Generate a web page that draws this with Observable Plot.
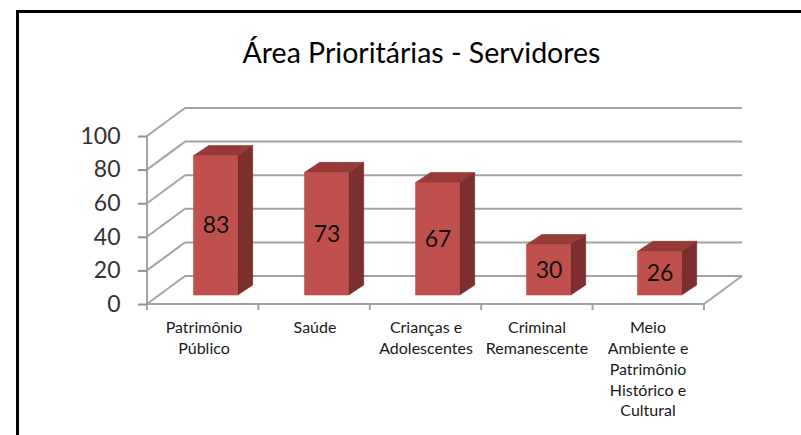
<!DOCTYPE html>
<html><head><meta charset="utf-8">
<script src="https://cdn.jsdelivr.net/npm/d3@7"></script>
<script src="https://cdn.jsdelivr.net/npm/@observablehq/plot@0.6"></script>
<style>
html,body{margin:0;padding:0;background:#fff;overflow:hidden;}
#wrap{position:relative;width:801px;height:435px;overflow:hidden;background:#fff;}
#border{position:absolute;left:16px;top:10px;width:1000px;height:1000px;border:3px solid #000;box-sizing:border-box;}
#chart{position:absolute;left:0;top:0;}
</style></head><body>
<div id="wrap"><div id="border"></div><div id="chart"></div></div>
<script>
const title = "Área Prioritárias - Servidores";
const categories = ["Patrimônio Público", "Saúde", "Crianças e Adolescentes", "Criminal Remanescente", "Meio Ambiente e Patrimônio Histórico e Cultural"];
const tickLabels = ["Patrimônio\nPúblico", "Saúde", "Crianças e\nAdolescentes", "Criminal\nRemanescente", "Meio\nAmbiente e\nPatrimônio\nHistórico e\nCultural"];
const values = [83, 73, 67, 30, 26];
const yTicks = [0, 20, 40, 60, 80, 100];

const data = categories.map((c, i) => ({cat: c, value: values[i]}));
const labelOf = new Map(categories.map((c, i) => [c, tickLabels[i]]));

// 3D projection styling (pixels)
const W = 801, H = 435, ML = 147, MR = 97, MT = 136, MB = 131;
const BACK_DX = 38, BACK_DY = -28;   // back wall offset
const BAR_DX = 12, BAR_DY = -9;      // bar front face depth offset
const DEPTH_DX = 15, DEPTH_DY = -10; // bar thickness
const BAND = (W - ML - MR) / categories.length;
const BAR_W = 44;
const INSET = (BAND - BAR_W) / 2;
const GRID = "#a3a3a3";

function walls(index, scales, values, dims) {
  const y = scales.y;
  const left = dims.marginLeft, right = dims.width - dims.marginRight;
  const g = d3.create("svg:g").attr("fill", "none").attr("stroke", GRID).attr("stroke-width", 2);
  const line = (x1, y1, x2, y2) => g.append("line").attr("x1", x1).attr("y1", y1).attr("x2", x2).attr("y2", y2);
  for (const t of yTicks) {
    const py = y(t);
    line(left, py, left + BACK_DX, py + BACK_DY);
    line(left + BACK_DX, py + BACK_DY, right + BACK_DX, py + BACK_DY);
  }
  const y0 = y(0);
  line(left, y0, right, y0);
  line(right, y0, right + BACK_DX, y0 + BACK_DY);
  line(left, y(yTicks[yTicks.length - 1]), left, y0);
  const n = categories.length;
  const bw = (right - left) / n;
  for (let i = 0; i <= n; ++i) line(left + i * bw, y0, left + i * bw, y0 + 6);
  return g.node();
}

function barSides(index, scales) {
  const {x, y} = scales;
  const g = d3.create("svg:g");
  for (const d of data) {
    const x0 = x(d.cat) + INSET + BAR_DX;
    const x1 = x0 + BAR_W;
    const yt = y(d.value) + BAR_DY;
    const yb = y(0) + BAR_DY;
    const side = [[x1, yt], [x1 + DEPTH_DX, yt + DEPTH_DY], [x1 + DEPTH_DX, yb + DEPTH_DY], [x1, yb]];
    const top = [[x0, yt], [x1, yt], [x1 + DEPTH_DX, yt + DEPTH_DY], [x0 + DEPTH_DX, yt + DEPTH_DY]];
    g.append("polygon").attr("points", side.map(p => p.join(",")).join(" ")).attr("fill", "#7c2f2d").attr("stroke", "#6e2927").attr("stroke-width", 0.6);
    g.append("polygon").attr("points", top.map(p => p.join(",")).join(" ")).attr("fill", "#963b38").attr("stroke", "#86332f").attr("stroke-width", 0.6);
  }
  return g.node();
}

const chart = Plot.plot({
  width: W, height: H,
  marginLeft: ML, marginRight: MR, marginTop: MT, marginBottom: MB,
  style: {fontFamily: "Lato, 'Open Sans', sans-serif", background: "transparent", overflow: "visible"},
  x: {domain: categories, padding: 0},
  y: {domain: [0, 100]},
  marks: [
    walls,
    Plot.axisY({ticks: yTicks, tickSize: 9, tickPadding: 18, fontSize: 23, stroke: "#8f8f8f", strokeWidth: 2, fill: "#333", label: null}),
    Plot.axisX({tickSize: 0, tickPadding: 14, fontSize: 16, lineHeight: 1.3, tickFormat: d => labelOf.get(d), fill: "#1a1a1a", label: null}),
    barSides,
    Plot.barY(data, {x: "cat", y: "value", fill: "#c0504d", stroke: "#b0443f", strokeWidth: 0.6, insetLeft: INSET, insetRight: INSET, dx: BAR_DX, dy: BAR_DY}),
    Plot.text(data, {x: "cat", y: d => d.value / 2, text: d => String(d.value), dx: BAR_DX, dy: BAR_DY, fontSize: 23, fill: "#111"}),
    Plot.text([title], {frameAnchor: "top", lineAnchor: "middle", dx: -4.5, dy: -83, fontSize: 28.5, fill: "#000"})
  ]
});
document.getElementById("chart").appendChild(chart);
</script>
</body></html>
